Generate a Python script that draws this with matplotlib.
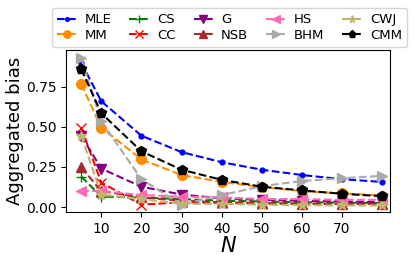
import matplotlib
matplotlib.use("Agg")
import matplotlib.pyplot as plt
import numpy as np

N = [5, 10, 20, 30, 40, 50, 60, 70, 80]

labels = ["MLE", "MM", "CS", "CC", "G", "NSB", "HS", "BHM", "CWJ", "CMM"]
markers = ['.', 'o', '+', 'x', 'v', '^', '<', '>', '*', 'p']
colors = ['blue', 'darkorange', 'green', 'red', 'purple', 'brown',
          'hotpink', 'darkgray', 'darkkhaki', 'black']

mle = [0.90, 0.66, 0.445, 0.343, 0.28, 0.233, 0.20, 0.174, 0.157]
mm = [0.767, 0.496, 0.297, 0.20, 0.157, 0.125, 0.10, 0.085, 0.072]
cs = [0.19, 0.065, 0.06, 0.05, 0.04, 0.035, 0.03, 0.028, 0.025]
cc = [0.496, 0.153, 0.015, 0.03, 0.025, 0.022, 0.02, 0.02, 0.02]
g = [0.445, 0.24, 0.127, 0.078, 0.055, 0.045, 0.04, 0.035, 0.03]
nsb = [0.248, 0.10, 0.06, 0.04, 0.03, 0.025, 0.022, 0.02, 0.02]
hs = [0.10, 0.10, 0.075, 0.065, 0.06, 0.05, 0.05, 0.045, 0.045]
bhm = [0.93, 0.535, 0.174, 0.015, 0.075, 0.13, 0.163, 0.18, 0.195]
cwj = [0.445, 0.078, 0.05, 0.02, 0.02, 0.015, 0.012, 0.01, 0.01]
cmm = [0.86, 0.585, 0.348, 0.233, 0.17, 0.127, 0.104, 0.083, 0.068]

values = [mle, mm, cs, cc, g, nsb, hs, bhm, cwj, cmm]

fig = plt.figure(figsize=(4.15, 2.6), dpi=100)
ax = fig.add_axes([0.159, 0.185, 0.781, 0.623])

for i in range(len(labels)):
    ax.plot(N, values[i], label=labels[i], linestyle='dashed',
            marker=markers[i], c=colors[i], markersize=7)

ax.set_xlabel("$N$", fontsize=15, labelpad=0)
ax.set_ylabel("Aggregated bias", fontsize=13, labelpad=1)
ax.set_xticks(np.arange(10, 71, 10))
ax.set_yticks([0.0, 0.25, 0.5, 0.75])
ax.tick_params(labelsize=10)
ax.set_xlim(1.2, 82)
ax.set_ylim(-0.03, 0.98)

fig.legend(loc='upper center', bbox_to_anchor=(0.553, 0.995), ncol=5,
           fontsize=9.5, handlelength=1.5, columnspacing=1.35,
           markerscale=0.75, labelspacing=0.2, borderpad=0.4,
           handletextpad=0.6)

plt.savefig("out.png", dpi=100)
